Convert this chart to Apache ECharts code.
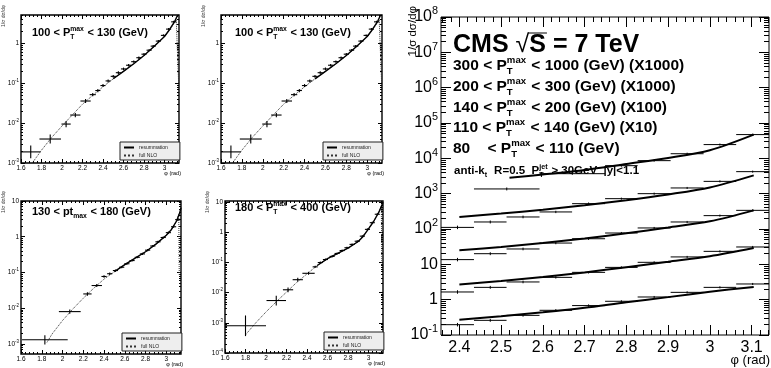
<!DOCTYPE html>
<html>
<head>
<meta charset="utf-8">
<script src="https://cdn.jsdelivr.net/npm/echarts@6/dist/echarts.min.js"></script>
<style>html,body{margin:0;padding:0;background:#fff}#chart{width:771px;height:368px}</style>
</head>
<body>
<div id="chart"></div>
<script>
var FONT = '"Liberation Sans", Arial, Helvetica, sans-serif';

// ---- small panels: 100 < pT < 130 (shown twice, top row) ----
var p1X    = [1.695, 1.885, 2.04, 2.13, 2.23, 2.30, 2.35, 2.40, 2.45, 2.50, 2.55, 2.60, 2.65, 2.70, 2.75, 2.80, 2.85, 2.89, 2.94, 2.99, 3.04, 3.09];
var p1Y    = [0.0019, 0.0040, 0.0095, 0.016, 0.036, 0.052, 0.066, 0.088, 0.115, 0.15, 0.185, 0.23, 0.285, 0.35, 0.44, 0.54, 0.68, 0.86, 1.15, 1.6, 2.3, 3.5];
var p1XErr = [0.095, 0.105, 0.045, 0.05, 0.05, 0.03, 0.025, 0.025, 0.025, 0.025, 0.025, 0.025, 0.025, 0.025, 0.025, 0.025, 0.025, 0.025, 0.025, 0.025, 0.025, 0.025];
var p1YErr = [0.45, 0.3, 0.2, 0.13, 0.12, 0.1, 0.1, 0.09, 0.09, 0.08, 0.08, 0.08, 0.07, 0.07, 0.07, 0.07, 0.06, 0.06, 0.06, 0.06, 0.06, 0.06];
var p1NloX = [1.71, 1.8, 1.9, 2.0, 2.1, 2.2, 2.3, 2.4, 2.5, 2.6, 2.7, 2.8, 2.9, 3.0, 3.05, 3.1, 3.115, 3.138];
var p1NloY = [0.001, 0.0021, 0.0044, 0.0085, 0.016, 0.03, 0.05, 0.082, 0.13, 0.2, 0.31, 0.5, 0.85, 1.5, 2.2, 3.4, 3.9, 0.1];
var p1ResX = [2.5, 2.6, 2.7, 2.8, 2.9, 3.0, 3.05, 3.1, 3.125, 3.1416];
var p1ResY = [0.13, 0.2, 0.31, 0.5, 0.85, 1.5, 2.25, 3.6, 5.0, 5.1];

// ---- 130 < pt < 180 ----
var p3X    = [1.83, 2.07, 2.24, 2.33, 2.40, 2.455, 2.51, 2.57, 2.62, 2.67, 2.72, 2.77, 2.82, 2.87, 2.92, 2.97, 3.02, 3.07, 3.11];
var p3Y    = [0.0013, 0.0080, 0.025, 0.043, 0.077, 0.092, 0.113, 0.14, 0.175, 0.215, 0.265, 0.33, 0.42, 0.55, 0.72, 0.95, 1.3, 1.9, 3.0];
var p3XErr = [0.22, 0.105, 0.04, 0.05, 0.025, 0.025, 0.025, 0.025, 0.025, 0.025, 0.025, 0.025, 0.025, 0.025, 0.025, 0.025, 0.025, 0.025, 0.025];
var p3YErr = [0.35, 0.15, 0.12, 0.1, 0.08, 0.08, 0.07, 0.07, 0.07, 0.07, 0.07, 0.07, 0.07, 0.07, 0.07, 0.07, 0.07, 0.07, 0.07];
var p3NloX = [1.85, 1.9, 2.0, 2.1, 2.2, 2.3, 2.4, 2.5, 2.6, 2.7, 2.8, 2.9, 3.0, 3.05, 3.1, 3.12, 3.125];
var p3NloY = [0.0011, 0.0019, 0.0045, 0.0095, 0.019, 0.036, 0.065, 0.105, 0.165, 0.25, 0.38, 0.62, 1.1, 1.6, 2.7, 4.2, 0.08];
var p3ResX = [2.5, 2.6, 2.7, 2.8, 2.9, 3.0, 3.05, 3.1, 3.13, 3.1416];
var p3ResY = [0.105, 0.165, 0.25, 0.38, 0.62, 1.1, 1.6, 2.8, 4.8, 6.5];

// ---- 180 < pT < 400 ----
var p4X    = [1.80, 2.10, 2.215, 2.31, 2.415, 2.48, 2.53, 2.58, 2.645, 2.694, 2.743, 2.79, 2.84, 2.89, 2.94, 2.99, 3.037, 3.086];
var p4Y    = [0.0008, 0.0055, 0.0125, 0.027, 0.044, 0.072, 0.10, 0.126, 0.16, 0.2, 0.25, 0.31, 0.4, 0.51, 0.75, 1.26, 2.1, 4.0];
var p4XErr = [0.2, 0.095, 0.05, 0.05, 0.06, 0.025, 0.025, 0.025, 0.025, 0.025, 0.025, 0.025, 0.025, 0.025, 0.025, 0.025, 0.025, 0.025];
var p4YErr = [1.2, 0.45, 0.2, 0.15, 0.12, 0.08, 0.08, 0.08, 0.08, 0.08, 0.08, 0.08, 0.08, 0.08, 0.08, 0.08, 0.08, 0.08];
var p4NloX = [1.80, 1.9, 2.0, 2.1, 2.2, 2.3, 2.4, 2.5, 2.6, 2.7, 2.8, 2.9, 3.0, 3.05, 3.1, 3.125, 3.13];
var p4NloY = [0.0004, 0.001, 0.0023, 0.005, 0.0105, 0.022, 0.042, 0.08, 0.135, 0.2, 0.3, 0.5, 1.3, 2.3, 4.6, 7.5, 0.08];
var p4ResX = [2.5, 2.6, 2.7, 2.8, 2.9, 2.95, 3.0, 3.05, 3.1, 3.13, 3.1416];
var p4ResY = [0.08, 0.135, 0.2, 0.3, 0.5, 0.75, 1.3, 2.3, 4.6, 8, 10];

// ---- big CMS panel ----
var bigBinLo = [2.356, 2.435, 2.513, 2.592, 2.670, 2.749, 2.827, 2.906, 2.985, 3.063];
var bigBinHi = [2.435, 2.513, 2.592, 2.670, 2.749, 2.827, 2.906, 2.985, 3.063, 3.142];
var bigErr   = [0.12, 0.1, 0.09, 0.08, 0.08, 0.07, 0.07, 0.07, 0.07, 0.07];
var dat80    = [0.196, 0.26, 0.36, 0.50, 0.68, 0.90, 1.19, 1.61, 2.23, 2.78];
var dat110   = [1.65, 2.23, 3.17, 4.28, 5.93, 8.2, 11.4, 16.2, 23.3, 31];
var dat140   = [13.6, 20, 27.2, 40, 53, 77, 107, 158, 239, 337];
var dat200   = [111, 158, 219, 304, 521, 722, 1000, 1450, 2230, 4200];
var bin300Lo = [2.435, 2.592, 2.749, 2.827, 2.906, 2.985, 3.063];
var bin300Hi = [2.592, 2.749, 2.827, 2.906, 2.985, 3.063, 3.142];
var err300   = [0.1, 0.08, 0.07, 0.07, 0.07, 0.07, 0.07];
var dat300   = [1360, 3680, 6200, 8600, 13500, 24500, 47000];
var thX      = [2.4, 2.5, 2.6, 2.7, 2.8, 2.9, 3.0, 3.105];
var th80     = [0.27, 0.34, 0.44, 0.59, 0.85, 1.18, 1.68, 2.3];
var th110    = [2.7, 3.4, 4.4, 5.9, 8.3, 11.8, 17, 29];
var th140    = [25, 31, 40, 54, 76, 110, 165, 337];
var th200    = [220, 275, 350, 470, 650, 950, 1500, 3300];
var th300X   = [2.52, 2.6, 2.7, 2.8, 2.9, 3.0, 3.105];
var th300    = [2800, 3500, 4700, 6900, 10200, 17000, 47000];

// tick labels
var smallXTicks = [1.6, 1.8, 2, 2.2, 2.4, 2.6, 2.8, 3];
var bigXTicks = [2.4, 2.5, 2.6, 2.7, 2.8, 2.9, 3, 3.1];
var p1YTicks = [0.001, 0.01, 0.1, 1];
var p3YTicks = [0.001, 0.01, 0.1, 1, 10];
var p4YTicks = [0.0001, 0.001, 0.01, 0.1, 1, 10];
var bigYTicks = [0.1, 1, 10, 100, 1e3, 1e4, 1e5, 1e6, 1e7, 1e8];

function linMinor(a, b, step) {
  var out = [];
  for (var v = a; v <= b + 1e-9; v += step) out.push(Math.round(v * 1000) / 1000);
  return out;
}
function logMinor(lo, hi) {
  var out = [];
  for (var n = Math.floor(Math.log10(lo)); n <= Math.ceil(Math.log10(hi)); n++) {
    for (var k = 2; k <= 9; k++) {
      var v = k * Math.pow(10, n);
      if (v > lo && v < hi) out.push(v);
    }
  }
  return out;
}
function fmtPow(v) {
  var n = Math.round(Math.log10(v));
  if (n === 0) return '1';
  if (n === 1) return '10';
  return '10{sup|' + n + '}';
}
function zip(xs, ys) { return xs.map(function (x, i) { return [x, ys[i]]; }); }
function errData(xs, ys, xe, ye) {
  return xs.map(function (x, i) { return [x, ys[i], x - xe[i], x + xe[i], ys[i] / (1 + ye[i]), ys[i] * (1 + ye[i])]; });
}
function binData(lo, hi, ys, ye) {
  return ys.map(function (y, i) { return [(lo[i] + hi[i]) / 2, y, lo[i], hi[i], y / (1 + ye[i]), y * (1 + ye[i])]; });
}

var grids = [], xAxes = [], yAxes = [], series = [], graphics = [], legends = [];

function addPanel(p) {
  var base = { x: xAxes.length, y: yAxes.length };
  [0, 1].forEach(function (k) {
    var major = k === 0;
    var g = grids.length;
    grids.push({ left: p.rect[0], top: p.rect[1], width: p.rect[2], height: p.rect[3],
      show: major, borderColor: '#000', borderWidth: p.s.border, backgroundColor: 'transparent' });
    var len = major ? p.s.major : p.s.minor;
    var xt = major ? p.xTicks : p.xMinor, yt = major ? p.yTicks : p.yMinor;
    ['bottom', 'top'].forEach(function (pos) {
      xAxes.push({ type: 'value', gridIndex: g, position: pos, min: p.xMin, max: p.xMax,
        axisLine: { show: false }, splitLine: { show: false },
        axisTick: { show: true, inside: true, length: len, customValues: xt, lineStyle: { color: '#000', width: p.s.w } },
        axisLabel: { show: major && pos === 'bottom', customValues: xt, fontSize: p.s.fs, fontFamily: FONT,
          color: '#000', margin: p.s.xm, formatter: function (v) { return String(v); } } });
    });
    ['left', 'right'].forEach(function (pos) {
      yAxes.push({ type: 'log', logBase: 10, gridIndex: g, position: pos, min: p.yMin, max: p.yMax,
        axisLine: { show: false }, splitLine: { show: false },
        axisTick: { show: true, inside: true, length: len, customValues: yt, lineStyle: { color: '#000', width: p.s.w } },
        axisLabel: { show: major && pos === 'left', customValues: yt, fontSize: p.s.fs, fontFamily: FONT,
          color: '#000', margin: p.s.ym, lineHeight: p.s.fs * 1.4, formatter: fmtPow,
          rich: { sup: { fontSize: p.s.fs * 0.68, lineHeight: p.s.fs * 0.7, verticalAlign: 'top', fontFamily: FONT, color: '#000' } } } });
    });
  });
  return base;
}

function errSeries(ax, data, lw) {
  return { type: 'custom', xAxisIndex: ax.x, yAxisIndex: ax.y, clip: true, z: 5,
    encode: { x: [0, 2, 3], y: [1, 4, 5] }, data: data,
    renderItem: function (params, api) {
      var c = api.coord([api.value(0), api.value(1)]);
      var l = api.coord([api.value(2), api.value(1)]);
      var r = api.coord([api.value(3), api.value(1)]);
      var lo = api.coord([api.value(0), api.value(4)]);
      var hi = api.coord([api.value(0), api.value(5)]);
      var st = { stroke: '#000', lineWidth: lw };
      return { type: 'group', children: [
        { type: 'line', shape: { x1: l[0], y1: c[1], x2: r[0], y2: c[1] }, style: st },
        { type: 'line', shape: { x1: c[0], y1: lo[1], x2: c[0], y2: hi[1] }, style: st }
      ] };
    } };
}

var measureCtx = document.createElement('canvas').getContext('2d');
function textW(s, size, weight) {
  measureCtx.font = weight + ' ' + size + 'px ' + FONT;
  return measureCtx.measureText(s).width;
}
function txt(x, y, s, size, weight, extra) {
  var el = { type: 'text', x: x, y: y, silent: true,
    style: { text: s, fontSize: size, fontWeight: weight, fontFamily: FONT, fill: '#000',
      align: 'left', verticalAlign: 'middle', textAlign: 'left', textVerticalAlign: 'middle' } };
  if (extra) Object.keys(extra).forEach(function (k) { if (k === 'style') Object.assign(el.style, extra.style); else el[k] = extra[k]; });
  return el;
}
// text with stacked super/subscripts, e.g. P_T^max
function scriptLine(x, y, size, weight, parts) {
  var cx = x, small = size * 0.62;
  parts.forEach(function (p) {
    if (typeof p === 'string') {
      graphics.push(txt(cx, y, p, size, weight));
      cx += textW(p, size, weight);
    } else {
      var w = 0;
      if (p.sup) { graphics.push(txt(cx, y - size * 0.36, p.sup, small, weight)); w = Math.max(w, textW(p.sup, small, weight)); }
      if (p.sub) { graphics.push(txt(cx, y + size * 0.33, p.sub, small, weight)); w = Math.max(w, textW(p.sub, small, weight)); }
      cx += w + size * 0.06;
    }
  });
  return cx;
}
function smallLegend(left, top) {
  legends.push({ left: left, top: top, orient: 'vertical', selectedMode: false,
    itemWidth: 10, itemHeight: 6, itemGap: 3, padding: [3, 12, 2, 3],
    backgroundColor: '#eeeeee', borderColor: '#222', borderWidth: 1,
    itemStyle: { opacity: 0 },
    textStyle: { fontSize: 5, fontFamily: FONT, color: '#222' },
    data: ['resummation', 'full NLO'] });
}

var smallStyle = { fs: 6.5, major: 4, minor: 2, w: 1, border: 1.4, xm: 2, ym: 2 };
var smallXMinor = linMinor(1.6, 3.14, 0.04);

function smallPanel(rect, yMin, yMax, yTicks, d) {
  var ax = addPanel({ rect: rect, xMin: 1.6, xMax: Math.PI, yMin: yMin, yMax: yMax,
    xTicks: smallXTicks, xMinor: smallXMinor, yTicks: yTicks, yMinor: logMinor(yMin, yMax), s: smallStyle });
  series.push({ name: 'full NLO', type: 'line', xAxisIndex: ax.x, yAxisIndex: ax.y, symbol: 'none', z: 2,
    data: zip(d.nloX, d.nloY), lineStyle: { color: '#333', width: 1, type: 'dotted' }, itemStyle: { color: '#333' } });
  series.push({ name: 'resummation', type: 'line', xAxisIndex: ax.x, yAxisIndex: ax.y, symbol: 'none', z: 3,
    data: zip(d.resX, d.resY), lineStyle: { color: '#000', width: 1.4 }, itemStyle: { color: '#000' } });
  series.push(errSeries(ax, errData(d.x, d.y, d.xe, d.ye), 1.1));
  var r = rect[0] + rect[2], b = rect[1] + rect[3];
  graphics.push(txt(r + 2, b + 10, 'φ (rad)', 5.5, 'normal', { style: { align: 'right', textAlign: 'right' } }));
  graphics.push(txt(rect[0] - 17, rect[1] - 10, '1/σ dσ/dφ', 5, 'normal',
    { rotation: Math.PI / 2, style: { align: 'right', textAlign: 'right', fill: '#444' } }));
  smallLegend(r - 59, b - 21);
}

var d1 = { x: p1X, y: p1Y, xe: p1XErr, ye: p1YErr, nloX: p1NloX, nloY: p1NloY, resX: p1ResX, resY: p1ResY };
smallPanel([21, 15, 158, 148], 0.001, 5.2, p1YTicks, d1);
smallPanel([221, 15, 161, 148], 0.001, 5.2, p1YTicks, d1);
smallPanel([21, 201, 160, 153], 0.00052, 10, p3YTicks,
  { x: p3X, y: p3Y, xe: p3XErr, ye: p3YErr, nloX: p3NloX, nloY: p3NloY, resX: p3ResX, resY: p3ResY });
smallPanel([225, 201, 158, 152], 0.0001, 11, p4YTicks,
  { x: p4X, y: p4Y, xe: p4XErr, ye: p4YErr, nloX: p4NloX, nloY: p4NloY, resX: p4ResX, resY: p4ResY });

scriptLine(32, 33, 11, 'bold', ['100 < P', { sup: 'max', sub: 'T' }, ' < 130 (GeV)']);
scriptLine(235, 33, 11, 'bold', ['100 < P', { sup: 'max', sub: 'T' }, ' < 130 (GeV)']);
scriptLine(32, 212, 11, 'bold', ['130 < pt', { sub: 'max' }, ' < 180 (GeV)']);
scriptLine(235, 208, 11, 'bold', ['180 < P', { sup: 'max', sub: 'T' }, ' < 400 (GeV)']);

// big panel
var bigAx = addPanel({ rect: [441, 17, 328, 318], xMin: 2.356, xMax: Math.PI, yMin: 0.1, yMax: 1e8,
  xTicks: bigXTicks, xMinor: linMinor(2.36, 3.14, 0.02), yTicks: bigYTicks, yMinor: logMinor(0.1, 1e8),
  s: { fs: 16, major: 10, minor: 5, w: 1, border: 1, xm: 5, ym: 3 } });
[[thX, th80], [thX, th110], [thX, th140], [thX, th200], [th300X, th300]].forEach(function (c) {
  series.push({ name: 'theory', type: 'line', xAxisIndex: bigAx.x, yAxisIndex: bigAx.y, symbol: 'none', smooth: 0.3, z: 3,
    data: zip(c[0], c[1]), lineStyle: { color: '#000', width: 2 } });
});
[dat80, dat110, dat140, dat200].forEach(function (d) {
  series.push(errSeries(bigAx, binData(bigBinLo, bigBinHi, d, bigErr), 1));
});
series.push(errSeries(bigAx, binData(bin300Lo, bin300Hi, dat300, err300), 1));

graphics.push(txt(453, 45, 'CMS', 25, 'bold'));
var rx = 453 + textW('CMS', 25, 'bold') + 7;
graphics.push(txt(rx, 45, '√', 25, 'normal'));
var sx = rx + textW('√', 25, 'normal');
graphics.push(txt(sx, 45, 'S = 7 TeV', 25, 'bold'));
graphics.push({ type: 'line', silent: true, shape: { x1: sx - 1, y1: 33, x2: sx + textW('S', 25, 'bold') + 1, y2: 33 }, style: { stroke: '#000', lineWidth: 1 } });
scriptLine(453, 66, 15.5, 'bold', ['300 < P', { sup: 'max', sub: 'T' }, ' < 1000 (GeV) (X1000)']);
scriptLine(453, 87, 15.5, 'bold', ['200 < P', { sup: 'max', sub: 'T' }, ' < 300 (GeV) (X1000)']);
scriptLine(453, 108, 15.5, 'bold', ['140 < P', { sup: 'max', sub: 'T' }, ' < 200 (GeV) (X100)']);
scriptLine(453, 128, 15.5, 'bold', ['110 < P', { sup: 'max', sub: 'T' }, ' < 140 (GeV) (X10)']);
scriptLine(453, 149, 15.5, 'bold', ['80    < P', { sup: 'max', sub: 'T' }, ' < 110 (GeV)']);
scriptLine(454, 171, 11.5, 'bold', ['anti-k', { sub: 't' }, '  R=0.5  P', { sup: 'jet', sub: 'T' }, ' > 30GeV  |y|<1.1']);
graphics.push(txt(770, 360, 'φ (rad)', 13, 'normal', { style: { align: 'right', textAlign: 'right' } }));
graphics.push(txt(413, 6, '1/σ dσ/dφ', 11.5, 'normal', { rotation: Math.PI / 2, style: { align: 'right', textAlign: 'right' } }));

var chart = echarts.init(document.getElementById('chart'));
chart.setOption({
  animation: false,
  backgroundColor: '#fff',
  grid: grids,
  xAxis: xAxes,
  yAxis: yAxes,
  legend: legends,
  series: series,
  graphic: graphics
});
</script>
</body>
</html>
